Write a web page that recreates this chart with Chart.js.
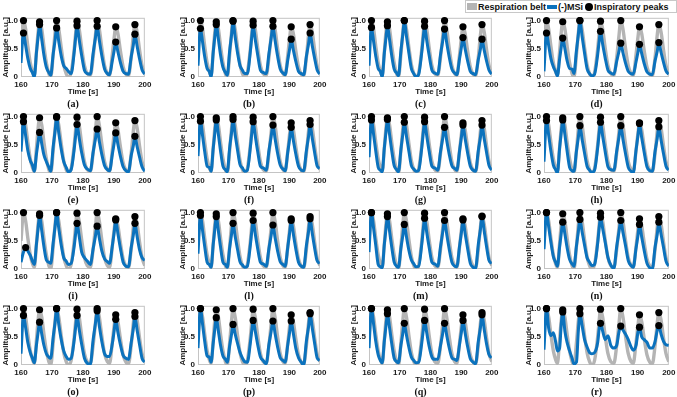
<!DOCTYPE html>
<html>
<head>
<meta charset="utf-8">
<script src="https://cdn.jsdelivr.net/npm/chart.js@4.4.0/dist/chart.umd.min.js"></script>
<style>
  body { margin: 0; background: #fff; }
  #wrap { position: relative; width: 677px; height: 397px; overflow: hidden; background: #fff; }
  canvas.panel { position: absolute; }
  #legend {
    position: absolute; left: 465px; top: 0; width: 212px; height: 13px;
    box-sizing: border-box; border: 1px solid #c8c8c8; background: #fff;
    display: flex; align-items: center; padding-left: 1px;
    font: bold 9px "Liberation Sans", Arial, sans-serif; color: #111; white-space: nowrap;
  }
  #legend .sw { display: inline-block; width: 10px; margin-right: 1px; }
  #legend .belt { height: 7px; background: #b4b4b4; }
  #legend .msi { height: 4px; background: #0b72bd; margin-left: 1px; }
  #legend .dot { display: inline-block; width: 8px; height: 8px; border-radius: 50%; background: #000; margin: 0 1px 0 2px; }
</style>
</head>
<body>
<div id="wrap">
  <div id="legend">
    <span class="sw belt"></span><span>Respiration belt</span>
    <span class="sw msi"></span><span>(-)MSi</span>
    <span class="dot"></span><span>Inspiratory peaks</span>
  </div>
</div>
<script>
// time grid [s], shared by every panel
const time = [160.0, 160.8, 161.5, 162.2, 163.0, 163.7, 164.3,
  165.0, 165.5, 166.0, 166.7, 167.4, 168.2, 169.0, 169.6,
  170.4, 171.0, 171.5, 172.2, 173.0, 173.8, 174.6, 175.3,
  176.2, 177.2, 177.7, 178.1, 178.8, 179.6, 180.5, 181.4, 182.4,
  183.3, 184.0, 184.6, 185.3, 186.1, 187.0, 187.9, 188.6,
  189.5, 190.1, 190.6, 191.3, 192.1, 193.0, 193.9, 194.7,
  195.6, 196.3, 196.8, 197.5, 198.3, 199.1, 200.0];

// respiration belt (same recording in every panel)
const belt = [0.5, 1.0, 0.85, 0.55, 0.25, 0.1, 0.03,
  0.45, 0.78, 0.98, 0.85, 0.55, 0.25, 0.06, 0.0,
  0.4, 0.78, 1.0, 0.85, 0.52, 0.22, 0.06, 0.0,
  0.08, 0.5, 0.8, 0.99, 0.85, 0.52, 0.2, 0.06, 0.03,
  0.35, 0.72, 1.0, 0.85, 0.52, 0.2, 0.06, 0.03,
  0.4, 0.7, 0.89, 0.77, 0.47, 0.18, 0.05, 0.02,
  0.35, 0.75, 0.93, 0.8, 0.48, 0.2, 0.06];

// (-)MSi signal for each panel
const msiA = [0.25,0.78,0.56,0.33,0.15,0.08,0.0, 0.44,0.7,0.93,0.67,0.39,0.17,0.08,0.03, 0.41,0.65,0.87,0.63,0.37,0.2,0.15,0.1, 0.06,0.45,0.73,0.91,0.66,0.38,0.12,0.06,0.05, 0.42,0.68,0.9,0.65,0.38,0.14,0.06,0.04, 0.29,0.47,0.62,0.45,0.26,0.1,0.06,0.05, 0.36,0.57,0.76,0.55,0.32,0.13,0.05];
const msiB = [0.2,0.86,0.62,0.36,0.15,0.1,0.0, 0.44,0.7,0.93,0.67,0.39,0.17,0.08,0.03, 0.47,0.74,0.99,0.71,0.42,0.2,0.12,0.06, 0.06,0.46,0.74,0.92,0.66,0.39,0.12,0.08,0.06, 0.42,0.68,0.9,0.65,0.38,0.14,0.07,0.04, 0.31,0.5,0.67,0.48,0.28,0.1,0.06,0.04, 0.37,0.59,0.78,0.56,0.33,0.13,0.05];
const msiC = [0.2,0.88,0.63,0.37,0.15,0.1,0.0, 0.43,0.68,0.91,0.66,0.38,0.14,0.07,0.02, 0.47,0.75,1.0,0.72,0.42,0.15,0.06,0.0, 0.05,0.45,0.72,0.9,0.65,0.38,0.12,0.07,0.05, 0.4,0.64,0.85,0.61,0.36,0.14,0.07,0.04, 0.33,0.53,0.7,0.5,0.29,0.1,0.06,0.04, 0.31,0.5,0.67,0.48,0.28,0.12,0.05];
const msiD = [0.1,0.78,0.56,0.33,0.18,0.1,0.02, 0.32,0.52,0.69,0.5,0.29,0.15,0.14,0.06, 0.47,0.75,1.0,0.72,0.42,0.15,0.06,0.02, 0.05,0.4,0.65,0.81,0.58,0.34,0.12,0.07,0.05, 0.28,0.45,0.6,0.43,0.25,0.1,0.06,0.05, 0.27,0.44,0.58,0.42,0.24,0.09,0.05,0.04, 0.29,0.46,0.61,0.44,0.26,0.11,0.05];
const msiE = [0.38,0.91,0.66,0.4,0.22,0.14,0.03, 0.34,0.54,0.72,0.52,0.32,0.2,0.1,0.03, 0.47,0.74,0.99,0.71,0.42,0.2,0.1,0.02, 0.06,0.43,0.69,0.86,0.62,0.36,0.14,0.07,0.04, 0.37,0.59,0.78,0.56,0.33,0.13,0.06,0.04, 0.33,0.53,0.71,0.51,0.3,0.11,0.04,0.02, 0.31,0.49,0.65,0.47,0.28,0.11,0.03];
const msiF = [0.3,0.92,0.66,0.38,0.12,0.1,0.03, 0.44,0.7,0.94,0.68,0.39,0.12,0.06,0.02, 0.45,0.71,0.95,0.68,0.4,0.15,0.09,0.03, 0.05,0.46,0.73,0.91,0.66,0.38,0.12,0.09,0.05, 0.4,0.64,0.85,0.61,0.36,0.14,0.07,0.04, 0.38,0.61,0.81,0.58,0.34,0.12,0.05,0.04, 0.4,0.65,0.86,0.62,0.36,0.13,0.08];
const msiG = [0.28,0.94,0.68,0.39,0.1,0.05,0.02, 0.45,0.71,0.95,0.68,0.4,0.13,0.06,0.02, 0.42,0.68,0.9,0.65,0.38,0.13,0.07,0.03, 0.05,0.46,0.73,0.91,0.66,0.38,0.12,0.09,0.05, 0.38,0.61,0.81,0.58,0.34,0.13,0.08,0.05, 0.4,0.64,0.85,0.61,0.36,0.12,0.05,0.03, 0.4,0.64,0.85,0.61,0.36,0.13,0.05];
const msiH = [0.2,0.93,0.67,0.39,0.14,0.06,0.0, 0.44,0.7,0.94,0.68,0.39,0.1,0.04,0.03, 0.39,0.63,0.84,0.6,0.35,0.12,0.05,0.01, 0.05,0.45,0.72,0.9,0.65,0.38,0.11,0.06,0.05, 0.39,0.63,0.84,0.6,0.35,0.1,0.03,0.0, 0.41,0.66,0.88,0.63,0.37,0.11,0.04,0.03, 0.39,0.62,0.82,0.59,0.34,0.12,0.05];
const msiI = [0.12,0.3,0.38,0.32,0.24,0.14,0.08, 0.45,0.71,0.95,0.68,0.4,0.16,0.12,0.1, 0.47,0.75,1.0,0.72,0.42,0.2,0.14,0.08, 0.1,0.41,0.65,0.81,0.58,0.3,0.2,0.14,0.08, 0.36,0.57,0.76,0.55,0.32,0.18,0.13,0.1, 0.41,0.65,0.87,0.63,0.37,0.12,0.05,0.04, 0.38,0.61,0.81,0.58,0.34,0.2,0.15];
const msiL = [0.27,0.95,0.68,0.4,0.12,0.08,0.03, 0.44,0.7,0.93,0.67,0.39,0.12,0.08,0.03, 0.38,0.61,0.81,0.58,0.34,0.13,0.07,0.03, 0.05,0.43,0.69,0.86,0.62,0.36,0.12,0.09,0.05, 0.37,0.59,0.78,0.56,0.33,0.13,0.08,0.05, 0.4,0.65,0.86,0.62,0.36,0.12,0.05,0.03, 0.42,0.67,0.89,0.64,0.37,0.15,0.1];
const msiM = [0.3,1.0,0.72,0.42,0.08,0.04,0.02, 0.44,0.7,0.93,0.67,0.39,0.12,0.05,0.03, 0.37,0.59,0.79,0.57,0.33,0.16,0.09,0.04, 0.05,0.45,0.72,0.9,0.65,0.38,0.12,0.09,0.05, 0.4,0.65,0.86,0.62,0.36,0.12,0.05,0.04, 0.41,0.65,0.87,0.63,0.37,0.1,0.03,0.01, 0.44,0.71,0.94,0.68,0.39,0.15,0.1];
const msiN = [0.35,1.0,0.75,0.48,0.22,0.12,0.05, 0.39,0.62,0.83,0.62,0.38,0.17,0.09,0.05, 0.41,0.66,0.88,0.66,0.42,0.2,0.12,0.06, 0.08,0.46,0.74,0.92,0.72,0.48,0.2,0.07,0.01, 0.4,0.65,0.86,0.65,0.42,0.15,0.06,0.03, 0.37,0.59,0.79,0.57,0.33,0.1,0.02,0.0, 0.39,0.62,0.83,0.62,0.38,0.14,0.05];
const msiO = [0.2,0.88,0.66,0.4,0.22,0.12,0.04, 0.36,0.57,0.76,0.55,0.35,0.2,0.14,0.12, 0.5,0.75,1.0,0.72,0.45,0.25,0.15,0.1, 0.12,0.45,0.7,0.88,0.63,0.37,0.12,0.03,0.01, 0.45,0.72,0.96,0.69,0.42,0.2,0.15,0.15, 0.38,0.61,0.81,0.58,0.36,0.17,0.12,0.1, 0.4,0.65,0.86,0.62,0.36,0.12,0.05];
const msiP = [0.3,1.0,0.72,0.42,0.16,0.14,0.05, 0.39,0.63,0.84,0.6,0.35,0.16,0.1,0.05, 0.34,0.54,0.72,0.55,0.38,0.22,0.12,0.06, 0.05,0.4,0.63,0.79,0.6,0.36,0.14,0.08,0.02, 0.37,0.59,0.78,0.56,0.33,0.13,0.08,0.05, 0.37,0.59,0.78,0.56,0.3,0.13,0.05,0.0, 0.43,0.68,0.91,0.66,0.38,0.13,0.08];
const msiQ = [0.3,1.0,0.72,0.42,0.18,0.08,0.04, 0.43,0.68,0.91,0.66,0.38,0.12,0.06,0.04, 0.35,0.56,0.74,0.53,0.31,0.14,0.08,0.04, 0.05,0.4,0.63,0.79,0.57,0.33,0.14,0.1,0.1, 0.35,0.56,0.74,0.53,0.31,0.13,0.1,0.08, 0.37,0.59,0.79,0.57,0.33,0.11,0.05,0.02, 0.42,0.67,0.89,0.64,0.37,0.18,0.13];
const msiR = [0.27,1.0,0.65,0.52,0.57,0.42,0.25, 0.3,0.7,0.94,0.6,0.4,0.25,0.12,0.02, 0.05,0.6,0.91,0.7,0.45,0.32,0.22,0.2, 0.22,0.4,0.65,0.74,0.6,0.45,0.52,0.35,0.3, 0.35,0.58,0.69,0.62,0.55,0.45,0.32,0.26, 0.35,0.58,0.67,0.5,0.45,0.4,0.3,0.3, 0.42,0.62,0.7,0.55,0.42,0.36,0.35];

// indices (into time) of the detected inspiratory peaks
const peakIdx = [1, 9, 17, 26, 34, 42, 50];
const peakIdxI = [2, 9, 17, 26, 34, 42, 50];

const xTicks = [160, 170, 180, 190, 200];
const yTicks = [0, 0.5, 1];

const panels = [
  ["(a)", msiA, peakIdx], ["(b)", msiB, peakIdx], ["(c)", msiC, peakIdx], ["(d)", msiD, peakIdx],
  ["(e)", msiE, peakIdx], ["(f)", msiF, peakIdx], ["(g)", msiG, peakIdx], ["(h)", msiH, peakIdx],
  ["(i)", msiI, peakIdxI], ["(l)", msiL, peakIdx], ["(m)", msiM, peakIdx], ["(n)", msiN, peakIdx],
  ["(o)", msiO, peakIdx], ["(p)", msiP, peakIdx], ["(q)", msiQ, peakIdx], ["(r)", msiR, peakIdx]
];

// layout (page pixels)
const colLeft = [21, 198, 369, 544];
const colWidth = [125, 123, 124, 126];
const rowBottom = [77, 173, 269, 365];
const plotH = 62, yAxisW = 21, xAxisH = 20, padTop = 5, padRight = 8, titleH = 14;

Chart.defaults.font.family = '"Liberation Sans", Arial, sans-serif';
Chart.defaults.color = "#1a1a1a";

const boxPlugin = {
  id: "box",
  beforeDatasetsDraw(chart) {
    const { ctx, chartArea: a } = chart;
    ctx.save();
    ctx.strokeStyle = "#c4c4c4";
    ctx.lineWidth = 1;
    ctx.strokeRect(a.left + 0.5, a.top + 0.5, a.width - 1, a.height - 1);
    ctx.restore();
  }
};

const wrap = document.getElementById("wrap");

panels.forEach(([label, msi, msiPeaks], k) => {
  const row = Math.floor(k / 4), col = k % 4;
  const canvas = document.createElement("canvas");
  canvas.className = "panel";
  canvas.width = yAxisW + colWidth[col] + padRight;
  canvas.height = padTop + plotH + xAxisH + titleH;
  canvas.style.left = (colLeft[col] - yAxisW) + "px";
  canvas.style.top = (rowBottom[row] - plotH - padTop) + "px";
  wrap.appendChild(canvas);

  new Chart(canvas.getContext("2d"), {
    type: "line",
    data: {
      datasets: [
        {
          label: "Inspiratory peaks",
          data: peakIdx.map(i => ({ x: time[i], y: belt[i] })),
          showLine: false, pointRadius: 3.6, pointBackgroundColor: "#000",
          pointBorderWidth: 0, clip: false, order: 0
        },
        {
          label: "Inspiratory peaks MSi",
          data: msiPeaks.map(i => ({ x: time[i], y: msi[i] })),
          showLine: false, pointRadius: 3.6, pointBackgroundColor: "#000",
          pointBorderWidth: 0, clip: false, order: 0
        },
        {
          label: "(-)MSi",
          data: time.map((t, i) => ({ x: t, y: msi[i] })),
          borderColor: "#0b72bd", borderWidth: 3, pointRadius: 0,
          cubicInterpolationMode: "monotone", order: 1
        },
        {
          label: "Respiration belt",
          data: time.map((t, i) => ({ x: t, y: belt[i] })),
          borderColor: "#b4b4b4", borderWidth: 3.4, pointRadius: 0,
          cubicInterpolationMode: "monotone", order: 2
        }
      ]
    },
    options: {
      responsive: false,
      animation: false,
      devicePixelRatio: 1,
      layout: { padding: { top: padTop, right: padRight, left: 0, bottom: 0 } },
      plugins: {
        legend: { display: false },
        tooltip: { enabled: false },
        title: {
          display: true, text: label, position: "bottom",
          font: { family: '"Liberation Serif", "Times New Roman", serif', size: 10, weight: "bold" },
          padding: { top: 1, bottom: 1 }, color: "#111"
        }
      },
      scales: {
        x: {
          type: "linear", min: 160, max: 200,
          afterFit: s => { s.height = xAxisH; },
          afterBuildTicks: s => { s.ticks = xTicks.map(v => ({ value: v })); },
          grid: { display: false, drawTicks: false },
          border: { display: false },
          ticks: { font: { size: 8, weight: "bold" }, padding: 2.5, maxRotation: 0 },
          title: { display: true, text: "Time [s]", font: { size: 8, weight: "bold" }, padding: { top: 0, bottom: 0 } }
        },
        y: {
          min: 0, max: 1.05,
          afterFit: s => { s.width = yAxisW; },
          afterBuildTicks: s => { s.ticks = yTicks.map(v => ({ value: v })); },
          grid: { display: false, drawTicks: false },
          border: { display: false },
          ticks: { font: { size: 8, weight: "bold" }, padding: 3 },
          title: { display: true, text: "Amplitude [a.u.]", font: { size: 8, weight: "bold" }, padding: { top: 1.2, bottom: 0 } }
        }
      }
    },
    plugins: [boxPlugin]
  });
});
</script>
</body>
</html>
